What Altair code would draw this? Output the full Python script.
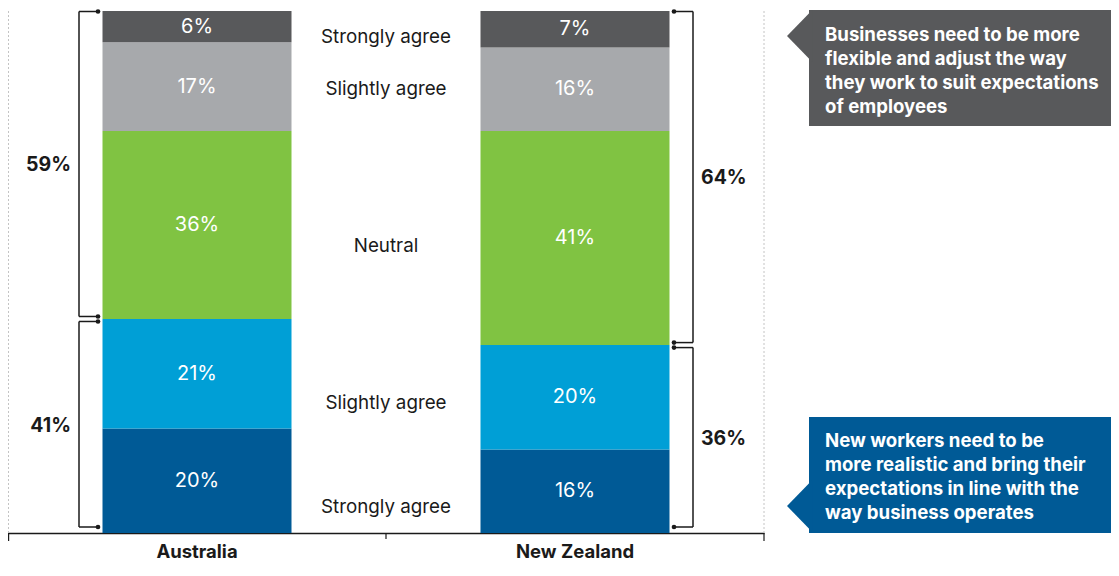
import altair as alt
import pandas as pd

# ---------------- data ----------------
countries = ["Australia", "New Zealand"]
segments = ["New workers: strongly agree", "New workers: slightly agree", "Neutral",
            "Businesses: slightly agree", "Businesses: strongly agree"]
australia = [20, 21, 36, 17, 6]
new_zealand = [16, 20, 41, 16, 7]
seg_colors = ["#005a96", "#009fd6", "#80c342", "#a7a9ac", "#58595b"]

mid_labels = ["Strongly agree", "Slightly agree", "Neutral", "Slightly agree", "Strongly agree"]
mid_label_pos = [5, 25, 55, 85, 95]

callout_top = ["Businesses need to be more", "flexible and adjust the way",
               "they work to suit expectations", "of employees"]
callout_bottom = ["New workers need to be", "more realistic and bring their",
                  "expectations in line with the", "way business operates"]

FONT = "Inter"
W, H = 756, 522
TOTAL_W, TOTAL_H = 1103, 556
PAD_TOP = 3
GRID = "#c4c4c4"
INK = "#1a1a1a"

# ---------------- tables ----------------
rows = []
for c, vals in zip(countries, [australia, new_zealand]):
    cum = 0
    for s, v in zip(segments, vals):
        rows.append(dict(country=c, segment=s, value=v, start=cum, end=cum + v,
                         mid=cum + v / 2, label=f"{v}%"))
        cum += v
df = pd.DataFrame(rows)

mid_df = pd.DataFrame({"label": mid_labels, "pos": mid_label_pos})

one = pd.DataFrame({"k": [0]})

y_scale = alt.Scale(domain=[0, 100], nice=False, zero=True)

bars = alt.Chart(df).mark_bar().encode(
    x=alt.X("country:N", sort=countries,
            scale=alt.Scale(paddingInner=0.5, paddingOuter=0.25),
            axis=alt.Axis(title=None, labelAngle=0, ticks=False, domain=True,
                          domainColor=INK, domainWidth=1.5, grid=False,
                          labelFont=FONT, labelFontSize=18.5, labelFontWeight="bold",
                          labelColor=INK, labelPadding=9)),
    y=alt.Y("start:Q", scale=y_scale,
            axis=alt.Axis(title=None, values=list(range(0, 101, 10)), grid=True,
                          labels=False, ticks=False, domain=False,
                          gridColor=GRID, gridDash=[2, 2], gridWidth=1)),
    y2="end:Q",
    color=alt.Color("segment:N", scale=alt.Scale(domain=segments, range=seg_colors), legend=None),
)

seg_text = alt.Chart(df).mark_text(font=FONT, fontSize=20, color="white", baseline="middle").encode(
    x=alt.X("country:N", sort=countries),
    y=alt.Y("mid:Q", scale=y_scale, axis=None),
    text="label:N",
)

mid_text = alt.Chart(mid_df).mark_text(font=FONT, fontSize=18.8, color=INK, baseline="middle").encode(
    x=alt.value(W / 2),
    y=alt.Y("pos:Q", scale=y_scale, axis=None),
    text="label:N",
)

# vertical dotted border lines and x ticks
deco = []
for xv in [0.5, W]:
    deco.append(alt.Chart(one).mark_rule(color=GRID, strokeDash=[2, 2], strokeWidth=1).encode(
        x=alt.value(xv), y=alt.value(0), y2=alt.value(H)))
for xv, ln in [(0.6, 8), (W / 2, 6), (W, 8)]:
    deco.append(alt.Chart(one).mark_rule(color=INK, strokeWidth=1.2).encode(
        x=alt.value(xv), y=alt.value(H), y2=alt.value(H + ln)))

# brackets
brackets = []
centers = [W * 0.25, W * 0.75]
for c, vals, cx, sgn in zip(countries, [australia, new_zealand], centers, [-1, 1]):
    lower = sum(vals[:2])
    upper = sum(vals[2:])
    xv = cx + sgn * 118
    xd = cx + sgn * 99
    xl = cx + sgn * 126
    bdf = pd.DataFrame({"top": [100, lower], "bot": [lower, 0],
                        "mid": [(100 + lower) / 2, lower / 2],
                        "label": [f"{upper}%", f"{lower}%"]})
    up = bdf.iloc[[0]]
    lo = bdf.iloc[[1]]
    for part, oy_top, oy_bot in [(up, 0.5, -2.5), (lo, 2.5, -6)]:
        brackets.append(alt.Chart(part).mark_rule(color=INK, strokeWidth=1.5,
                                                  yOffset=oy_top, y2Offset=oy_bot).encode(
            x=alt.value(xv), y=alt.Y("top:Q", scale=y_scale, axis=None), y2="bot:Q"))
        for fld, off in [("top", oy_top), ("bot", oy_bot)]:
            brackets.append(alt.Chart(part).mark_rule(color=INK, strokeWidth=1.5, yOffset=off).encode(
                x=alt.value(xv), x2=alt.value(xd), y=alt.Y(f"{fld}:Q", scale=y_scale, axis=None)))
            brackets.append(alt.Chart(part).mark_circle(color=INK, opacity=1, size=22, yOffset=off).encode(
                x=alt.value(xd), y=alt.Y(f"{fld}:Q", scale=y_scale, axis=None)))
    brackets.append(alt.Chart(bdf).mark_text(font=FONT, fontSize=19.5, fontWeight="bold", color=INK,
                                             align="right" if sgn < 0 else "left",
                                             baseline="middle").encode(
        x=alt.value(xl), y=alt.Y("mid:Q", scale=y_scale, axis=None), text="label:N"))

# callouts
ARROW = "M-1,0L1.3,-2.36L1.3,2.36Z"
callouts = []
for lines, color, top, tipy, ty in [(callout_top, "#58595b", -1, 25, 15),
                                     (callout_bottom, "#005a96", H - 116, H - 27, H - 101)]:
    callouts.append(alt.Chart(one).mark_rect(color=color).encode(
        x=alt.value(801), x2=alt.value(TOTAL_W + 5), y=alt.value(top), y2=alt.value(top + 116)))
    callouts.append(alt.Chart(one).mark_point(shape=ARROW, filled=True, color=color, opacity=1,
                                              size=484, strokeWidth=0).encode(
        x=alt.value(790), y=alt.value(tipy)))
    callouts.append(alt.Chart(one).mark_text(font=FONT, fontSize=18.6, fontWeight="bold", color="white",
                                             align="left", baseline="top", lineHeight=24).encode(
        x=alt.value(817), y=alt.value(ty), text=alt.value(lines)))

chart = alt.layer(bars, seg_text, mid_text, *deco, *brackets, *callouts).properties(
    width=W, height=H,
    padding={"left": 0, "top": PAD_TOP, "right": TOTAL_W - W, "bottom": TOTAL_H - H - PAD_TOP},
    autosize=alt.AutoSizeParams(type="none"),
).configure_view(stroke=None)

chart.save("out.html", embed_options={"renderer": "svg", "actions": False})
